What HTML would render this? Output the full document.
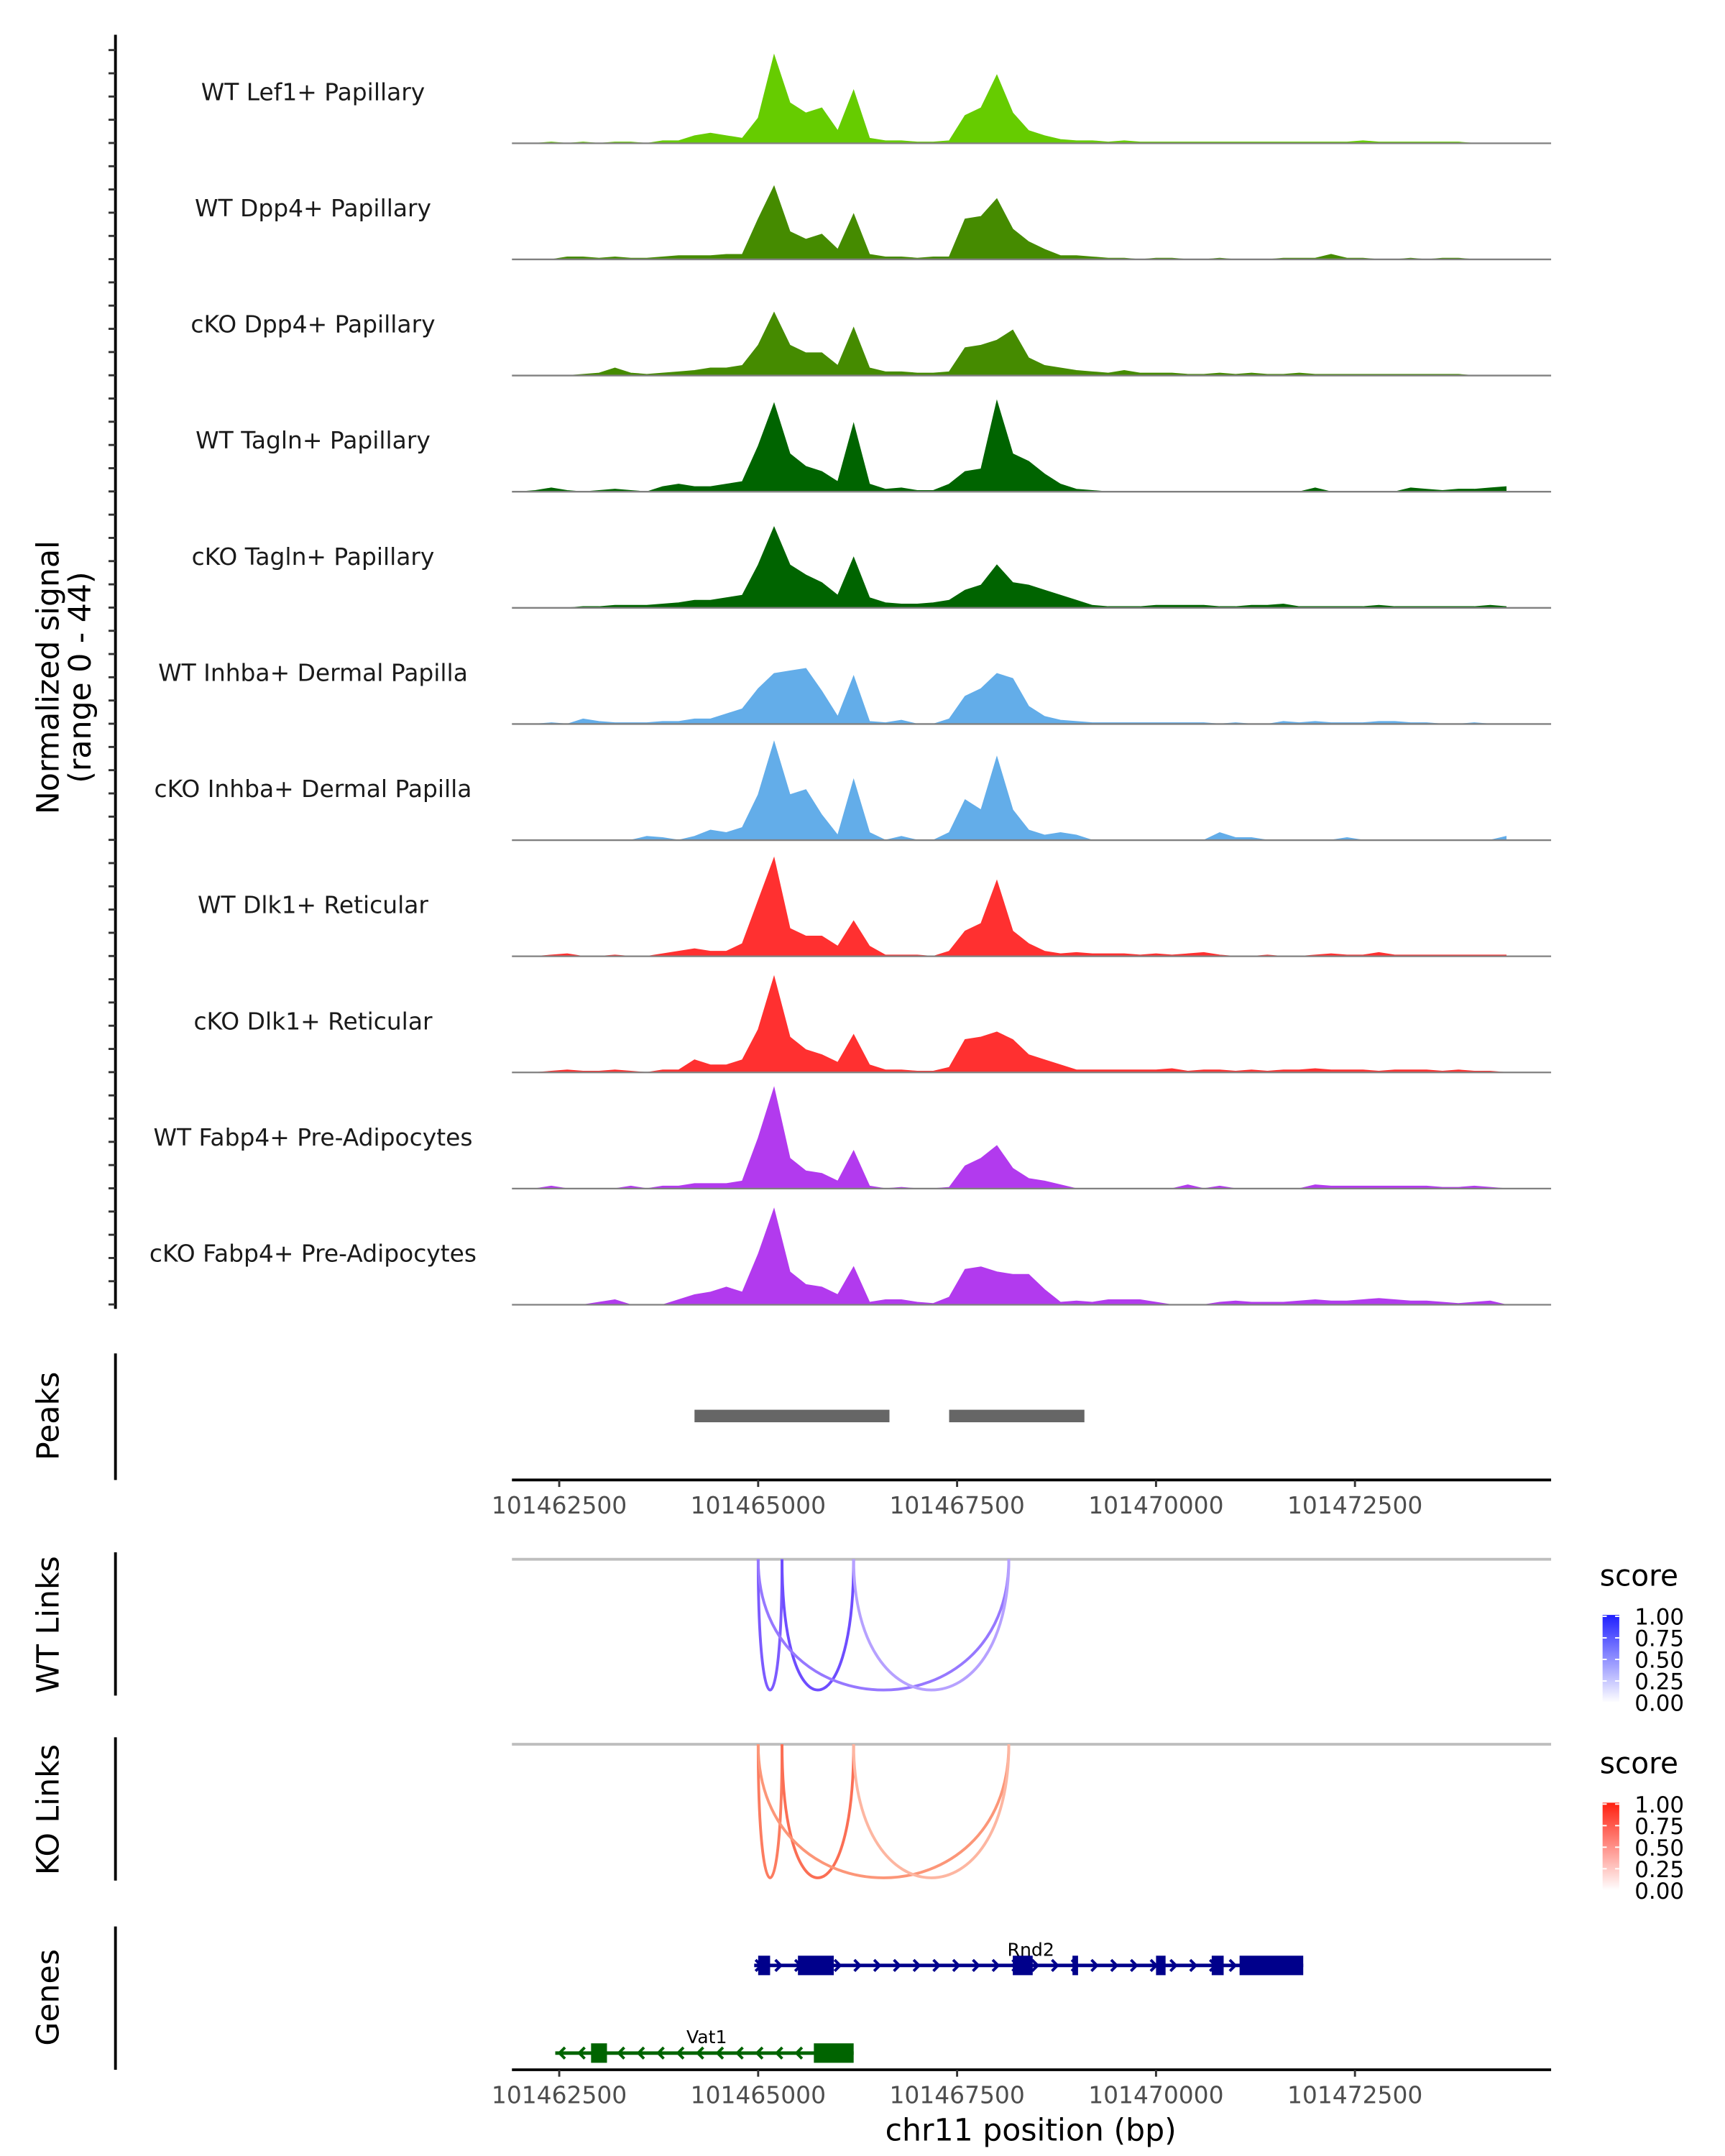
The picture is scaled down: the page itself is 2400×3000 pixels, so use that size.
<!DOCTYPE html>
<html><head><meta charset="utf-8">
<style>html,body{margin:0;padding:0;background:#fff}svg{display:block}text{font-family:"DejaVu Sans","Liberation Sans",sans-serif}</style>
</head><body>
<svg id="fig" width="2400" height="3000" viewBox="0 0 1240 1550" xmlns="http://www.w3.org/2000/svg"></svg>
<script>
// ---- data ----
const binStart = 101462000;
const binStep = 200;
const trackNames = ["WT Lef1+ Papillary","WT Dpp4+ Papillary","cKO Dpp4+ Papillary","WT Tagln+ Papillary","cKO Tagln+ Papillary","WT Inhba+ Dermal Papilla","cKO Inhba+ Dermal Papilla","WT Dlk1+ Reticular","cKO Dlk1+ Reticular","WT Fabp4+ Pre-Adipocytes","cKO Fabp4+ Pre-Adipocytes"];
const trackColors = ["#66cc00","#458b00","#458b00","#006400","#006400","#63ade9","#63ade9","#ff3030","#ff3030","#b23aee","#b23aee"];
const sig1 = [0,0,0.5,0,0.5,0,0.5,0.5,0,1,1,3,4,3,2,10,35,16,12,14,5,21,2,1,1,0.5,0.5,1,11,14,27,12,5,3,1.5,1,1,0.5,1,0.5,0.5,0.5,0.5,0.5,0.5,0.5,0.5,0.5,0.5,0.5,0.5,0.5,0.5,1,0.5,0.5,0.5,0.5,0.5,0.5,0,0,0];
const sig2 = [0,0,0,1,1,0.5,1,0.5,0.5,1,1.5,1.5,1.5,2,2,16,29,11,8,10,4,18,2,1,1,0.5,1,1,16,17,24,12,7,4,1.5,1.5,1,0.5,0.5,0,0.5,0.5,0,0,0.5,0,0,0,0.5,0.5,0.5,2,0.5,0.5,0,0,0.5,0,0.5,0.5,0,0,0];
const sig3 = [0,0,0,0,0.5,1,3,1,0.5,1,1.5,2,3,3,4,12,25,12,9,9,4,19,3,1.5,1.5,1,1,1.5,11,12,14,18,7,4,3,2,1.5,1,2,1,1,1,0.5,0.5,1,0.5,1,0.5,0.5,1,0.5,0.5,0.5,0.5,0.5,0.5,0.5,0.5,0.5,0.5,0,0,0];
const sig4 = [0,0.5,1.5,0.5,0,0.5,1,0.5,0,2,3,2,2,3,4,18,35,15,10,8,4,27,3,1,1.5,0.5,0.5,3,8,9,36,15,12,7,3,1,0.5,0,0,0,0,0,0,0,0,0,0,0,0,0,1.5,0,0,0,0,0,1.5,1,0.5,1,1,1.5,2];
const sig5 = [0,0,0,0,0.5,0.5,1,1,1,1.5,2,3,3,4,5,17,32,17,13,10,5,20,4,2,1.5,1.5,2,3,7,9,17,10,9,7,5,3,1,0.5,0.5,0.5,1,1,1,1,0.5,0.5,1,1,1.5,0.5,0.5,0.5,0.5,0.5,1,0.5,0.5,0.5,0.5,0.5,0.5,1,0.5];
const sig6 = [0,0,0.5,0,2,1,0.5,0.5,0.5,1,1,2,2,4,6,14,20,21,22,13,3,19,1,0.5,1.5,0,0,2,11,14,20,18,7,3,1.5,1,0.5,0.5,0.5,0.5,0.5,0.5,0.5,0.5,0,0.5,0,0,1,0.5,1,0.5,0.5,0.5,1,1,0.5,0.5,0,0,0.5,0,0];
const sig7 = [0,0,0,0,0,0,0,0,1.5,1,0,1.5,4,3,5,18,39,18,20,10,2,24,3,0,1.5,0,0,3,16,12,33,12,4,2,3,2,0,0,0,0,0,0,0,0,3,1,1,0,0,0,0,0,1,0,0,0,0,0,0,0,0,0,1.5];
const sig8 = [0,0,0.5,1,0,0,0.5,0,0,1,2,3,2,2,5,22,39,11,8,8,4,14,4,0.5,0.5,0.5,0,2,10,13,30,10,5,2,1,1.5,1,1,1,0.5,1,0.5,1,1.5,0.5,0,0,0.5,0,0,0.5,1,0.5,0.5,1.5,0.5,0.5,0.5,0.5,0.5,0.5,0.5,0.5];
const sig9 = [0,0,0.5,1,0.5,0.5,1,0.5,0,1,1,5,3,3,5,17,38,14,9,7,4,15,3,1,1,0.5,0.5,2,13,14,16,13,7,5,3,1,1,1,1,1,1,1.5,0.5,1,1,0.5,1,0.5,1,1,1.5,1,1,1,0.5,1,1,1,0.5,1,0.5,0.5,0];
const sig10 = [0,0,1,0,0,0,0,1,0,1,1,2,2,2,3,20,40,12,7,6,3,15,1,0,0.5,0,0,0.5,9,12,17,8,4,3,1.5,0,0,0,0,0,0,0,1.5,0,1,0,0,0,0,0,1.5,1,1,1,1,1,1,1,0.5,0.5,1,0.5,0];
const sig11 = [0,0,0,0,0,1,2,0,0,0,2,4,5,7,5,20,38,13,8,7,4,15,1,2,2,1,0.5,3,14,15,13,12,12,6,1,1.5,1,2,2,2,1,0,0,0,1,1.5,1,1,1,1.5,2,1.5,1.5,2,2.5,2,1.5,1.5,1,0.5,1,1.5,0];
const signals = [sig1,sig2,sig3,sig4,sig5,sig6,sig7,sig8,sig9,sig10,sig11];
const xTicks = [101462500,101465000,101467500,101470000,101472500];
const peakStarts = [101464200,101467400];
const peakEnds = [101466650,101469100];
const linkStarts = [101465000,101465300,101465000,101466200];
const linkEnds = [101465300,101466200,101468150,101468150];
const wtScores = [0.62,0.68,0.5,0.35];
const koScores = [0.62,0.68,0.5,0.35];
const legendLabels = ["1.00","0.75","0.50","0.25","0.00"];
const rnd2Start = 101464950, rnd2End = 101471850;
const rnd2ExonStarts = [101465000,101465500,101468200,101468950,101470000,101470700,101471050];
const rnd2ExonEnds = [101465150,101465950,101468450,101469020,101470120,101470850,101471850];
const vat1Start = 101462450, vat1End = 101466200;
const vat1ExonStarts = [101462900,101465700];
const vat1ExonEnds = [101463100,101466200];

// ---- scales ----
const X0 = 402, PXBP = 143/2500;
const xs = bp => X0 + (bp - 101462500) * PXBP;
const L = 368, R = 1115;
const trackBase0 = 103, trackGap = 83.5, ySig = 80/44;
const NS = "http://www.w3.org/2000/svg";
const svg = document.getElementById('fig');
function mk(tag, attrs, parent){const e=document.createElementNS(NS,tag);for(const k in attrs)e.setAttribute(k,attrs[k]);(parent||svg).appendChild(e);return e;}
function txt(s, attrs, parent){const e=mk('text',attrs,parent);e.textContent=s;return e;}

// left axis of coverage
let ax = mk('line',{x1:83,y1:25,x2:83,y2:941,stroke:'#000','stroke-width':2});


for(let y=36;y<=940;y+=16.7){const t=mk('line',{x1:78,y1:y,x2:83,y2:y,stroke:'#333','stroke-width':1.5});}
let yl = txt('Normalized signal',{x:0,y:0,'font-size':22,'text-anchor':'middle',fill:'#000',transform:'translate(42,487) rotate(-90)'});


let yl2 = txt('(range 0 - 44)',{x:0,y:0,'font-size':22,'text-anchor':'middle',fill:'#000',transform:'translate(65,487) rotate(-90)'});



// coverage tracks
signals.forEach((arr,t)=>{
  const base = trackBase0 + t*trackGap;
  const g = mk('g',{});
  
  
  let pts = [];
  const x0 = xs(binStart);
  pts.push(x0+','+base);
  arr.forEach((v,i)=>{pts.push(xs(binStart+i*binStep).toFixed(2)+','+(base - v*ySig).toFixed(2));});
  pts.push(xs(binStart+(arr.length-1)*binStep)+','+base);
  const p = mk('polygon',{points:pts.join(' '),fill:trackColors[t],stroke:trackColors[t],'stroke-width':0.5},g);
  
  
  const bl = mk('line',{x1:L,y1:base,x2:R,y2:base,stroke:'#808080','stroke-width':1.2},g);
  
  
  const lb = txt(trackNames[t],{x:225,y:base-31,'font-size':17,'text-anchor':'middle',fill:'#1a1a1a'},g);
  
  
});

// peaks
let pa = mk('line',{x1:83,y1:973,x2:83,y2:1064,stroke:'#000','stroke-width':2});


let pt = txt('Peaks',{x:0,y:0,'font-size':22,'text-anchor':'middle',transform:'translate(42,1018) rotate(-90)'});


peakStarts.forEach((s,i)=>{const r=mk('rect',{x:xs(s),y:1013.5,width:xs(peakEnds[i])-xs(s),height:9,fill:'#666'});});

function xAxis(y,name){
  const g=mk('g',{});
  
  
  mk('line',{x1:L,y1:y,x2:R,y2:y,stroke:'#000','stroke-width':2},g);
  xTicks.forEach(v=>{const x=xs(v);mk('line',{x1:x,y1:y,x2:x,y2:y+5,stroke:'#333','stroke-width':1.5},g);const tl=txt(String(v),{x:x,y:y+24,'font-size':17,'text-anchor':'middle',fill:'#4d4d4d'},g);});
}
xAxis(1064,'peaks-x-axis');

// links
function links(top,bottom,scores,colFn,title,legY,gradId,c1,name){
  const g=mk('g',{});
  
  
  mk('line',{x1:83,y1:top-5,x2:83,y2:top+98,stroke:'#000','stroke-width':2},g);
  const tt=txt(title,{x:0,y:0,'font-size':22,'text-anchor':'middle',transform:'translate(42,'+(top+47)+') rotate(-90)'},g);
  
  
  mk('line',{x1:L,y1:top,x2:R,y2:top,stroke:'#bebebe','stroke-width':2},g);
  const cy = top + (bottom-top)/0.75;
  linkStarts.forEach((s,i)=>{
    const a=xs(s),b=xs(linkEnds[i]);
    const p=mk('path',{d:`M${a},${top} C${a},${cy} ${b},${cy} ${b},${top}`,fill:'none',stroke:colFn(scores[i]),'stroke-width':2},g);
    
    
  });
  const defs=mk('defs',{},g);
  const lg=mk('linearGradient',{id:gradId,x1:0,y1:1,x2:0,y2:0},defs);
  mk('stop',{offset:0,'stop-color':'#ffffff'},lg);mk('stop',{offset:1,'stop-color':c1},lg);
  const lt=txt('score',{x:1150,y:legY,'font-size':21,fill:'#000'},g);
  
  
  const cb=mk('rect',{x:1152,y:legY+21,width:12,height:63,fill:`url(#${gradId})`},g);
  
  
  legendLabels.forEach((l,i)=>{const yy=legY+22+i*15.5;mk('line',{x1:1152,y1:yy,x2:1155,y2:yy,stroke:'#fff'},g);mk('line',{x1:1161,y1:yy,x2:1164,y2:yy,stroke:'#fff'},g);const e=txt(l,{x:1175,y:yy+6,'font-size':16,fill:'#000'},g);});
}
const mix=(c,s)=>{const r=Math.round(255+(c[0]-255)*s),gg=Math.round(255+(c[1]-255)*s),b=Math.round(255+(c[2]-255)*s);return `rgb(${r},${gg},${b})`;};
const blueFn=s=>{const lo=[255,255,255],mid=[150,120,255],hi=[40,0,255];return s<0.5?`rgb(${[0,1,2].map(k=>Math.round(lo[k]+(mid[k]-lo[k])*s*2)).join(',')})`:`rgb(${[0,1,2].map(k=>Math.round(mid[k]+(hi[k]-mid[k])*(s-0.5)*2)).join(',')})`;};
const redFn=s=>{const lo=[255,255,255],mid=[252,150,120],hi=[250,40,20];return s<0.5?`rgb(${[0,1,2].map(k=>Math.round(lo[k]+(mid[k]-lo[k])*s*2)).join(',')})`:`rgb(${[0,1,2].map(k=>Math.round(mid[k]+(hi[k]-mid[k])*(s-0.5)*2)).join(',')})`;};
links(1121,1215,wtScores,blueFn,'WT Links',1140,'gblue','#2020ff','wt-links-panel');
links(1254,1350,koScores,redFn,'KO Links',1275,'gred','#ff2010','ko-links-panel');

// genes
let ga=mk('line',{x1:83,y1:1385,x2:83,y2:1488,stroke:'#000','stroke-width':2});


let gt=txt('Genes',{x:0,y:0,'font-size':22,'text-anchor':'middle',transform:'translate(42,1436) rotate(-90)'});


function gene(name,s,e,es,ee,y,col,dir,lx,ly){
  const g=mk('g',{});
  
  
  const a=xs(s),b=xs(e);
  mk('line',{x1:a,y1:y,x2:b,y2:y,stroke:col,'stroke-width':2.5},g);
  for(let x=a+4;x<b-2;x+=14.2){const d=dir>0?`M${x-3},${y-4} L${x+1},${y} L${x-3},${y+4}`:`M${x+3},${y-4} L${x-1},${y} L${x+3},${y+4}`;mk('path',{d:d,fill:'none',stroke:col,'stroke-width':2},g);}
  es.forEach((v,i)=>{const r=mk('rect',{x:xs(v),y:y-7,width:Math.max(3,xs(ee[i])-xs(v)),height:14,fill:col},g);});
  const l=txt(name,{x:lx,y:ly,'font-size':13,'text-anchor':'middle',fill:'#000'},g);
  
  
}
gene('Rnd2',rnd2Start,rnd2End,rnd2ExonStarts,rnd2ExonEnds,1413,'#00008b',1,741,1406);
gene('Vat1',vat1Start,vat1End,vat1ExonStarts,vat1ExonEnds,1476,'#006400',-1,508,1469);
xAxis(1488,'genes-x-axis');
let xt=txt('chr11 position (bp)',{x:741,y:1539,'font-size':22,'text-anchor':'middle',fill:'#000'});


</script>
</body></html>
